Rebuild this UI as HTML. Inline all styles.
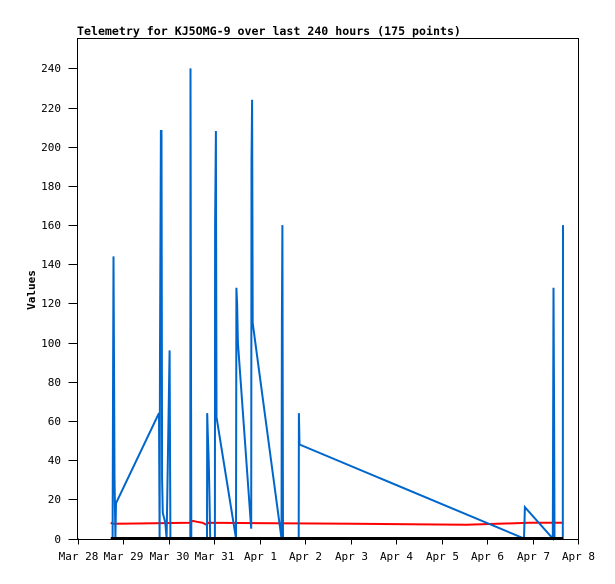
<!DOCTYPE html>
<html><head><meta charset="utf-8"><style>
body{margin:0;background:#fff}
svg text{font-family:"DejaVu Sans Mono","Liberation Mono",monospace;font-size:11px;fill:#000}
</style></head><body>
<svg id="chart" width="615" height="579" xmlns="http://www.w3.org/2000/svg">
<rect width="615" height="579" fill="#fff"/>
<text x="77" y="35" style="font-weight:bold;font-size:11.6px">Telemetry for KJ5OMG-9 over last 240 hours (175 points)</text>
<text transform="translate(35,290) rotate(-90)" text-anchor="middle" style="font-weight:bold">Values</text>
<g id="grid"></g><g id="series"></g>
<rect x="77.5" y="38.5" width="501" height="501" fill="none" stroke="#000"/>
</svg>
<script>
const yTicks=[0,20,40,60,80,100,120,140,160,180,200,220,240];
const xTickLabels=["Mar 28","Mar 29","Mar 30","Mar 31","Apr 1","Apr 2","Apr 3","Apr 4","Apr 5","Apr 6","Apr 7","Apr 8"];
const blueHours=[18.5,18.7,19.0,19.3,19.5,20.0,20.3,43.0,43.3,43.5,44.0,44.3,44.6,45.0,46.3,47.0,48.6,49.0,59.5,59.6,60.0,68.3,68.4,68.7,69.2,69.6,70.0,72.5,72.6,73.0,73.3,83.6,83.8,84.2,84.6,91.6,91.8,92.1,92.4,107.6,107.8,108.1,108.4,116.7,116.8,117.1,235.5,236.0,250.7,251.1,251.4,251.6,256.0,256.1];
const blueValues=[0,72,144,80,32,0,18,64,0,96,208,208,30,13,8,0,96,0,0,240,0,0,64,55,40,23,0,0,160,208,62,0,128,120,100,5,192,224,110,0,112,160,0,0,64,48,0,16,0,128,64,0,0,160];
const redHours=[17.5,18.5,59,61,63,66,68,69,146,205,238,256.1];
const redValues=[8,7.5,8,9,8.5,8,7,8,7.5,7,8,8];
const zeroHours=[17.5,256.1];
const zeroValues=[0,0];
const NS="http://www.w3.org/2000/svg";
const L=77.5,R=578,T=38,B=538.5,YMAX=255.5,HMAX=264;
const xs=h=>L+h/HMAX*(R-L);
const ys=v=>B-v/YMAX*(B-T);
const grid=document.getElementById('grid'),ser=document.getElementById('series');
function mk(tag,attrs,parent){const e=document.createElementNS(NS,tag);for(const k in attrs)e.setAttribute(k,attrs[k]);parent.appendChild(e);return e;}
yTicks.forEach(v=>{
  const y=Math.round(ys(v))+0.5;
  const t=mk('line',{x1:L-9,x2:L,y1:y,y2:y,stroke:'#000'},grid);
  
  
  const tx=mk('text',{x:61,y:y+3.5,'text-anchor':'end','font-size':'8.5px'},grid);tx.textContent=v;
  
  
});
xTickLabels.forEach((s,i)=>{
  const x=Math.round(xs(i*24))+0.5;
  const t=mk('line',{x1:x,x2:x,y1:B,y2:B+6,stroke:'#000'},grid);
  
  
  const tx=mk('text',{x:x,y:560,'text-anchor':'middle'},grid);tx.textContent=s;
  
  
});
function series(hs,vs,color,w,name){
  const p=mk('polyline',{points:hs.map((h,i)=>xs(h).toFixed(1)+','+ys(vs[i]).toFixed(1)).join(' '),fill:'none',stroke:color,'stroke-width':w},ser);
  
  
}
series(redHours,redValues,'#ff0000',2,'red-series');
series(blueHours,blueValues,'#0066cc',2,'blue-series');
series(zeroHours,zeroValues,'#000',3,'zero-series');
</script>
</body></html>
